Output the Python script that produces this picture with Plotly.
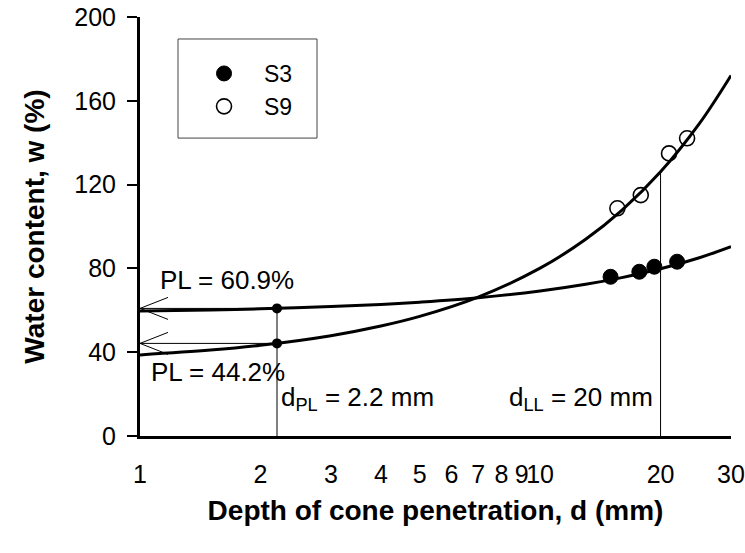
import numpy as np
import plotly.graph_objects as go

# ---- data ----
s3_d = [15.0, 17.7, 19.3, 22.0]
s3_w = [76.0, 78.4, 80.8, 83.2]
s9_d = [15.6, 17.85, 21.0, 23.3]
s9_w = [108.7, 115.0, 134.9, 142.1]

# fitted curves
fit_d = [1, 1.5, 2, 3, 4, 5, 7, 10, 13, 16, 20, 25, 30]
s3_fit_w = [59.7, 60.2, 60.7, 61.8, 62.8, 63.9, 66.0, 69.2, 72.4, 75.6, 79.8, 85.1, 90.4]
s9_fit_w = [38.7, 41.0, 43.3, 47.9, 52.5, 57.1, 66.3, 80.1, 93.9, 107.7, 126.1, 149.1, 172.1]

d_pl = 2.2
pl_s3 = 60.9
pl_s9 = 44.2
d_ll = 20
w_ll = 126.2

x_ticks = [1, 2, 3, 4, 5, 6, 7, 8, 9, 10, 20, 30]
x_minor = [2, 3, 4, 5, 6, 7, 8, 9, 20]
x_major = [1, 10]
x_top = [2, 3, 4, 5, 6, 7, 8, 9, 10, 20]
y_ticks = [0, 40, 80, 120, 160, 200]
y_minor = [v for v in range(0, 201, 8) if v % 40 != 0]
y_right = list(range(0, 201, 8))

XMIN, XMAX = 1, 30
FONT = "Liberation Sans, Arial, sans-serif"

fig = go.Figure()

# fit curves
fig.add_trace(go.Scatter(x=fit_d, y=s3_fit_w, mode="lines", line=dict(color="black", width=3, shape="spline"),
                         showlegend=False, hoverinfo="skip"))
fig.add_trace(go.Scatter(x=fit_d, y=s9_fit_w, mode="lines", line=dict(color="black", width=3, shape="spline"),
                         showlegend=False, hoverinfo="skip"))

# PL guide lines
fig.add_trace(go.Scatter(x=[d_pl, XMIN], y=[pl_s3, pl_s3], mode="lines", line=dict(color="black", width=1),
                         showlegend=False, hoverinfo="skip"))
fig.add_trace(go.Scatter(x=[d_pl, XMIN], y=[pl_s9, pl_s9], mode="lines", line=dict(color="black", width=1),
                         showlegend=False, hoverinfo="skip"))
fig.add_trace(go.Scatter(x=[d_pl, d_pl], y=[pl_s3, 0], mode="lines", line=dict(color="black", width=1),
                         showlegend=False, hoverinfo="skip"))
fig.add_trace(go.Scatter(x=[d_ll, d_ll], y=[w_ll, 0], mode="lines", line=dict(color="black", width=1),
                         showlegend=False, hoverinfo="skip"))
fig.add_trace(go.Scatter(x=[d_pl, d_pl], y=[pl_s3, pl_s9], mode="markers",
                         marker=dict(color="black", size=10), showlegend=False, hoverinfo="skip"))

# data
fig.add_trace(go.Scatter(x=s3_d, y=s3_w, mode="markers", name="S3",
                         marker=dict(symbol="circle", size=15, color="black", line=dict(color="black", width=1))))
fig.add_trace(go.Scatter(x=s9_d, y=s9_w, mode="markers", name="S9",
                         marker=dict(symbol="circle-open", size=15, color="black", line=dict(color="black", width=1.6))))

# open arrowheads
for w in (pl_s3, pl_s9):
    fig.add_shape(type="path", xref="x", yref="y", xsizemode="pixel", ysizemode="pixel",
                  xanchor=XMIN, yanchor=w, path="M 28,11 L 0,0 L 28,-11",
                  line=dict(color="black", width=1))

# legend frame
fig.add_shape(type="rect", xref="paper", yref="paper", x0=0.0643, x1=0.2995, y0=0.711, y1=0.9475,
              line=dict(color="#444444", width=1), fillcolor="rgba(0,0,0,0)")

ann_font = dict(family=FONT, size=26, color="black")
fig.add_annotation(x=np.log10(1.11), y=74.5, text="PL = 60.9%", showarrow=False, xanchor="left",
                   yanchor="middle", font=ann_font)
fig.add_annotation(x=np.log10(1.053), y=30.7, text="PL = 44.2%", showarrow=False, xanchor="left",
                   yanchor="middle", font=ann_font)
fig.add_annotation(x=np.log10(d_pl), y=18, text="d<sub>PL</sub> = 2.2 mm", showarrow=False, xanchor="left",
                   yanchor="middle", xshift=2, font=ann_font)
fig.add_annotation(x=np.log10(d_ll), y=18, text="d<sub>LL</sub> = 20 mm", showarrow=False, xanchor="right",
                   yanchor="middle", xshift=-6, font=ann_font)

xr = [np.log10(XMIN), np.log10(XMAX)]
tick_font = dict(family=FONT, size=25, color="black")

fig.update_layout(
    width=745, height=553,
    margin=dict(l=140, r=14, t=17, b=117, autoexpand=False),
    paper_bgcolor="white", plot_bgcolor="white",
    font=dict(family=FONT, color="black"),
    showlegend=True,
    legend=dict(x=0.0745, y=0.9165, xanchor="left", yanchor="top", bgcolor="rgba(0,0,0,0)",
                borderwidth=0, itemwidth=70, font=dict(family=FONT, size=23, color="black")),
    xaxis=dict(type="log", range=xr, tickvals=x_ticks, ticktext=[str(v) for v in x_ticks], ticks="",
               tickangle=0, tickfont=tick_font, ticklabelstandoff=14, automargin=False,
               showline=True, linecolor="black", linewidth=3, mirror=False, showgrid=False, zeroline=False,
               title=dict(text="<b>Depth of cone penetration, d (mm)</b>",
                          font=dict(family=FONT, size=28, color="black"), standoff=14)),
    xaxis2=dict(type="log", range=xr, overlaying="x", anchor="y", side="bottom", tickvals=x_minor,
                ticks="inside", ticklen=6, tickwidth=1.5, tickcolor="black", showticklabels=False,
                automargin=False, showline=False, showgrid=False, zeroline=False),
    xaxis3=dict(type="log", range=xr, overlaying="x", anchor="y", side="bottom", tickvals=x_major,
                ticks="outside", ticklen=9, tickwidth=1.5, tickcolor="black", showticklabels=False,
                automargin=False, showline=False, showgrid=False, zeroline=False),
    xaxis4=dict(type="log", range=xr, overlaying="x", anchor="y", side="top", tickvals=x_top,
                ticks="inside", ticklen=6, tickwidth=1.5, tickcolor="black", showticklabels=False,
                automargin=False, showline=True, linecolor="black", linewidth=3, showgrid=False, zeroline=False),
    yaxis=dict(range=[0, 200], tickvals=y_ticks, ticks="outside", ticklen=10, tickwidth=1.5, tickcolor="black",
               tickfont=tick_font, ticklabelstandoff=6, automargin=False,
               showline=True, linecolor="black", linewidth=3, showgrid=False, zeroline=False,
               title=dict(text="<b>Water content, w (%)</b>",
                          font=dict(family=FONT, size=28, color="black"), standoff=22)),
    yaxis2=dict(range=[0, 200], overlaying="y", anchor="x", side="left", tickvals=y_minor,
                ticks="inside", ticklen=6, tickwidth=1.5, tickcolor="black", showticklabels=False,
                automargin=False, showline=False, showgrid=False, zeroline=False),
    yaxis3=dict(range=[0, 200], overlaying="y", anchor="x", side="right", tickvals=y_right,
                ticks="inside", ticklen=6, tickwidth=1.5, tickcolor="black", showticklabels=False,
                automargin=False, showline=True, linecolor="black", linewidth=3, showgrid=False, zeroline=False),
)

fig.write_html("out.html", config={"displayModeBar": False},
               post_script="document.body.style.margin='0';document.body.style.overflow='hidden';")
